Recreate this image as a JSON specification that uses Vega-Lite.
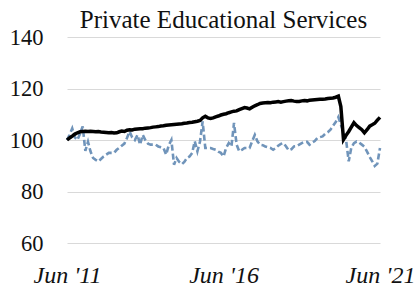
{
  "$schema": "https://vega.github.io/schema/vega-lite/v6.json",
  "autosize": "none",
  "width": 313,
  "height": 206,
  "padding": {"left": 67, "top": 37, "right": 36, "bottom": 47},
  "background": "white",
  "title": {"text": "Private Educational Services", "font": "Liberation Serif", "fontSize": 25, "fontWeight": "normal", "color": "#111111", "anchor": "middle", "offset": -7},
  "config": {"view": {"stroke": null}},
  "data": {"values": [
    {"date": "2011-06-01", "a": 100, "b": 100},
    {"date": "2011-07-01", "a": 102, "b": 100.8},
    {"date": "2011-08-01", "a": 104.5, "b": 101.5},
    {"date": "2011-09-01", "a": 101, "b": 102.3},
    {"date": "2011-10-01", "a": 100, "b": 102.8},
    {"date": "2011-11-01", "a": 102.5, "b": 103.2},
    {"date": "2011-12-01", "a": 105.3, "b": 103.3},
    {"date": "2012-01-01", "a": 95.8, "b": 103.4},
    {"date": "2012-02-01", "a": 99.3, "b": 103.3},
    {"date": "2012-03-01", "a": 95.6, "b": 103.4},
    {"date": "2012-04-01", "a": 93, "b": 103.3},
    {"date": "2012-05-01", "a": 92.3, "b": 103.2},
    {"date": "2012-06-01", "a": 91.7, "b": 103.3},
    {"date": "2012-07-01", "a": 92.6, "b": 103.1},
    {"date": "2012-08-01", "a": 93.6, "b": 103.0},
    {"date": "2012-09-01", "a": 94.3, "b": 102.9},
    {"date": "2012-10-01", "a": 95, "b": 102.8},
    {"date": "2012-11-01", "a": 95, "b": 102.9},
    {"date": "2012-12-01", "a": 95, "b": 102.7},
    {"date": "2013-01-01", "a": 96.2, "b": 102.8},
    {"date": "2013-02-01", "a": 97, "b": 103.2},
    {"date": "2013-03-01", "a": 97.8, "b": 103.5},
    {"date": "2013-04-01", "a": 98.6, "b": 103.3},
    {"date": "2013-05-01", "a": 100.8, "b": 103.8},
    {"date": "2013-06-01", "a": 103.3, "b": 104.0},
    {"date": "2013-07-01", "a": 101, "b": 103.9},
    {"date": "2013-08-01", "a": 100, "b": 104.2},
    {"date": "2013-09-01", "a": 102, "b": 104.3},
    {"date": "2013-10-01", "a": 98.2, "b": 104.4},
    {"date": "2013-11-01", "a": 102, "b": 104.4},
    {"date": "2013-12-01", "a": 100, "b": 104.6},
    {"date": "2014-01-01", "a": 98.6, "b": 104.7},
    {"date": "2014-02-01", "a": 98.2, "b": 104.8},
    {"date": "2014-03-01", "a": 98.2, "b": 105.0},
    {"date": "2014-04-01", "a": 98.2, "b": 105.1},
    {"date": "2014-05-01", "a": 97.5, "b": 105.2},
    {"date": "2014-06-01", "a": 97.2, "b": 105.4},
    {"date": "2014-07-01", "a": 96.9, "b": 105.5},
    {"date": "2014-08-01", "a": 94.3, "b": 105.7},
    {"date": "2014-09-01", "a": 98, "b": 105.8},
    {"date": "2014-10-01", "a": 100, "b": 105.9},
    {"date": "2014-11-01", "a": 90.4, "b": 106.0},
    {"date": "2014-12-01", "a": 93, "b": 106.1},
    {"date": "2015-01-01", "a": 91.5, "b": 106.2},
    {"date": "2015-02-01", "a": 90.6, "b": 106.3},
    {"date": "2015-03-01", "a": 91.5, "b": 106.5},
    {"date": "2015-04-01", "a": 93, "b": 106.6},
    {"date": "2015-05-01", "a": 93.6, "b": 106.8},
    {"date": "2015-06-01", "a": 95, "b": 106.9},
    {"date": "2015-07-01", "a": 99.5, "b": 107.1},
    {"date": "2015-08-01", "a": 95.6, "b": 107.3},
    {"date": "2015-09-01", "a": 99.5, "b": 107.6},
    {"date": "2015-10-01", "a": 107.2, "b": 108.6},
    {"date": "2015-11-01", "a": 96.9, "b": 109.2},
    {"date": "2015-12-01", "a": 96.9, "b": 108.6},
    {"date": "2016-01-01", "a": 96.9, "b": 108.4},
    {"date": "2016-02-01", "a": 96.5, "b": 108.6},
    {"date": "2016-03-01", "a": 96.2, "b": 109.0},
    {"date": "2016-04-01", "a": 95.5, "b": 109.3},
    {"date": "2016-05-01", "a": 95, "b": 109.7},
    {"date": "2016-06-01", "a": 93.6, "b": 110.0},
    {"date": "2016-07-01", "a": 96.9, "b": 110.2},
    {"date": "2016-08-01", "a": 98.8, "b": 110.6},
    {"date": "2016-09-01", "a": 97.5, "b": 110.9},
    {"date": "2016-10-01", "a": 106.6, "b": 111.2},
    {"date": "2016-11-01", "a": 98.2, "b": 111.3},
    {"date": "2016-12-01", "a": 95.6, "b": 111.8},
    {"date": "2017-01-01", "a": 96.2, "b": 112.2},
    {"date": "2017-02-01", "a": 96.9, "b": 112.6},
    {"date": "2017-03-01", "a": 96.9, "b": 112.4},
    {"date": "2017-04-01", "a": 96.9, "b": 112.1},
    {"date": "2017-05-01", "a": 99.5, "b": 112.7},
    {"date": "2017-06-01", "a": 102, "b": 113.3},
    {"date": "2017-07-01", "a": 99.5, "b": 113.7},
    {"date": "2017-08-01", "a": 98.2, "b": 114.2},
    {"date": "2017-09-01", "a": 98, "b": 114.4},
    {"date": "2017-10-01", "a": 97.5, "b": 114.5},
    {"date": "2017-11-01", "a": 97.2, "b": 114.6},
    {"date": "2017-12-01", "a": 96.9, "b": 114.5},
    {"date": "2018-01-01", "a": 96.2, "b": 114.7},
    {"date": "2018-02-01", "a": 96.9, "b": 114.8},
    {"date": "2018-03-01", "a": 97.8, "b": 114.9},
    {"date": "2018-04-01", "a": 98.5, "b": 114.7},
    {"date": "2018-05-01", "a": 98.8, "b": 114.9},
    {"date": "2018-06-01", "a": 97.5, "b": 115.1},
    {"date": "2018-07-01", "a": 96, "b": 115.2},
    {"date": "2018-08-01", "a": 96.4, "b": 115.3},
    {"date": "2018-09-01", "a": 97.5, "b": 115.1},
    {"date": "2018-10-01", "a": 97.6, "b": 115.0},
    {"date": "2018-11-01", "a": 98.2, "b": 115.0},
    {"date": "2018-12-01", "a": 98.8, "b": 115.2},
    {"date": "2019-01-01", "a": 99.2, "b": 115.3},
    {"date": "2019-02-01", "a": 99.3, "b": 115.2},
    {"date": "2019-03-01", "a": 98.2, "b": 115.4},
    {"date": "2019-04-01", "a": 99, "b": 115.5},
    {"date": "2019-05-01", "a": 99.6, "b": 115.6},
    {"date": "2019-06-01", "a": 100.8, "b": 115.7},
    {"date": "2019-07-01", "a": 101.1, "b": 115.8},
    {"date": "2019-08-01", "a": 101.4, "b": 115.8},
    {"date": "2019-09-01", "a": 102.4, "b": 115.9},
    {"date": "2019-10-01", "a": 103, "b": 116.1},
    {"date": "2019-11-01", "a": 104, "b": 116.2},
    {"date": "2019-12-01", "a": 105.5, "b": 116.3},
    {"date": "2020-01-01", "a": 107, "b": 116.6},
    {"date": "2020-02-01", "a": 108.9, "b": 117.0},
    {"date": "2020-03-01", "a": 106, "b": 113.0},
    {"date": "2020-04-01", "a": 103, "b": 100.2},
    {"date": "2020-05-01", "a": 100, "b": 101.8},
    {"date": "2020-06-01", "a": 91.7, "b": 103.3},
    {"date": "2020-07-01", "a": 97, "b": 105.0},
    {"date": "2020-08-01", "a": 98.8, "b": 106.7},
    {"date": "2020-09-01", "a": 99.4, "b": 105.6},
    {"date": "2020-10-01", "a": 99, "b": 104.8},
    {"date": "2020-11-01", "a": 98.2, "b": 104.0},
    {"date": "2020-12-01", "a": 97.4, "b": 102.8},
    {"date": "2021-01-01", "a": 95.5, "b": 104.0},
    {"date": "2021-02-01", "a": 93.4, "b": 105.4},
    {"date": "2021-03-01", "a": 91.8, "b": 105.9},
    {"date": "2021-04-01", "a": 89.9, "b": 106.5},
    {"date": "2021-05-01", "a": 90.8, "b": 107.7},
    {"date": "2021-06-01", "a": 96.9, "b": 108.8}
  ]},
  "encoding": {
    "x": {
      "field": "date", "type": "temporal",
      "scale": {"type": "utc", "domain": [{"year": 2011, "month": 6, "date": 1, "utc": true}, {"year": 2021, "month": 6, "date": 1, "utc": true}]},
      "axis": {
        "title": null, "grid": false, "domain": false, "ticks": false,
        "values": [{"year": 2011, "month": 6, "date": 1, "utc": true}, {"year": 2016, "month": 6, "date": 1, "utc": true}, {"year": 2021, "month": 6, "date": 1, "utc": true}],
        "labelExpr": "utcFormat(datum.value, \"%b '%y\")",
        "labelFont": "Liberation Serif", "labelFontStyle": "italic", "labelFontSize": 24, "labelColor": "#111111",
        "labelPadding": 20, "labelFlush": false, "labelBound": false, "labelOverlap": false
      }
    }
  },
  "layer": [
    {
      "mark": {"type": "line", "color": "#7094BA", "strokeWidth": 2.6, "strokeDash": [6, 3]},
      "encoding": {
        "y": {
          "field": "a", "type": "quantitative",
          "scale": {"domain": [60, 140], "nice": false, "zero": false},
          "axis": {
            "title": null, "values": [60, 80, 100, 120, 140], "grid": true, "gridColor": "#d9d9d9", "gridWidth": 1,
            "domain": false, "ticks": false, "labelFont": "Liberation Serif", "labelFontSize": 22.5, "labelColor": "#111111",
            "labelPadding": 24
          }
        }
      }
    },
    {
      "mark": {"type": "line", "color": "#000000", "strokeWidth": 3.5},
      "encoding": {"y": {"field": "b", "type": "quantitative"}}
    }
  ]
}
